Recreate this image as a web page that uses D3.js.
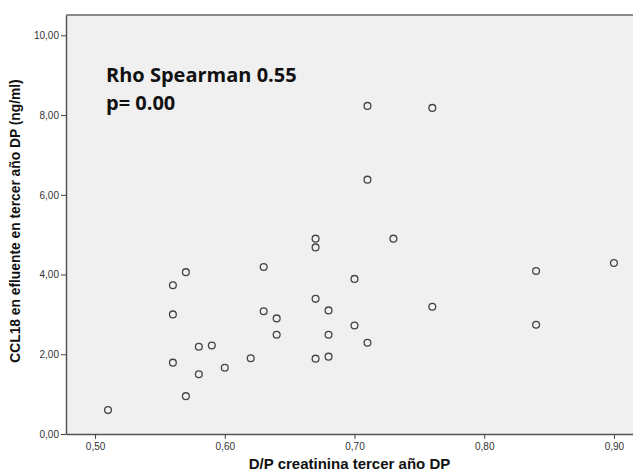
<!DOCTYPE html>
<html>
<head>
<meta charset="utf-8">
<script src="https://cdn.jsdelivr.net/npm/d3@7"></script>
<style>
  body { margin: 0; background: #fff; }
  svg { display: block; }
</style>
</head>
<body>
<svg width="633" height="473"></svg>
<script>
// D/P creatinina (x) vs CCL18 en efluente (y)
const dpValues = [0.51, 0.56, 0.56, 0.56, 0.57, 0.57, 0.58, 0.58, 0.59, 0.60, 0.62,
    0.63, 0.63, 0.64, 0.64, 0.67, 0.67, 0.67, 0.67, 0.68, 0.68, 0.68, 0.70, 0.70,
    0.71, 0.71, 0.71, 0.73, 0.76, 0.76, 0.84, 0.84, 0.90];
const ccl18Values = [0.60, 3.73, 3.00, 1.79, 4.06, 0.95, 2.19, 1.50, 2.22, 1.66, 1.90,
    4.19, 3.08, 2.90, 2.49, 4.90, 4.68, 3.39, 1.89, 3.10, 2.49, 1.94, 3.89, 2.72,
    8.23, 6.38, 2.29, 4.90, 8.18, 3.19, 4.09, 2.74, 4.29];
const xTicks = [0.5, 0.6, 0.7, 0.8, 0.9];
const yTicks = [0, 2, 4, 6, 8, 10];
const annotation = ["Rho Spearman 0.55", "p= 0.00"];

const svg = d3.select("svg");
const plot = { left: 66, top: 15, right: 633, bottom: 434 };

const x = d3.scaleLinear().domain([0.4776, 0.9147]).range([plot.left, plot.right]);
const y = d3.scaleLinear().domain([0, 10.51]).range([plot.bottom, plot.top]);
const fmt = d => d3.format(".2f")(d).replace(".", ",");

// background
svg.append("rect")
    .attr("x", plot.left).attr("y", plot.top)
    .attr("width", plot.right - plot.left).attr("height", plot.bottom - plot.top)
    .attr("fill", "#f0f0f0");

// top frame line
svg.append("line")
    .attr("x1", plot.left).attr("x2", plot.right)
    .attr("y1", plot.top).attr("y2", plot.top)
    .attr("stroke", "#666").attr("stroke-width", 1.5);

const xAxis = svg.append("g")
    .attr("transform", `translate(0,${plot.bottom})`)
    .call(d3.axisBottom(x).tickValues(xTicks).tickFormat(fmt).tickSize(5).tickSizeOuter(0).tickPadding(4));

const yAxis = svg.append("g")
    .attr("transform", `translate(${plot.left},0)`)
    .call(d3.axisLeft(y).tickValues(yTicks).tickFormat(fmt).tickSize(5).tickSizeOuter(0).tickPadding(2));

[xAxis, yAxis].forEach(g => {
    g.select(".domain").attr("stroke", "#555").attr("stroke-width", 1.5);
    g.selectAll(".tick line").attr("stroke", "#444");
    g.selectAll(".tick text")
        .attr("fill", "#333")
        .style("font-family", "Arial, 'Liberation Sans', sans-serif")
        .style("font-size", "10px");
});

// points
svg.append("g")
    .selectAll("circle")
    .data(dpValues.map((d, i) => [d, ccl18Values[i]]))
    .join("circle")
    .attr("cx", d => x(d[0]))
    .attr("cy", d => y(d[1]))
    .attr("r", 3.4)
    .attr("fill", "none")
    .attr("stroke", "#444")
    .attr("stroke-width", 1.3);

// axis titles
svg.append("text")
    .attr("x", (plot.left + plot.right) / 2)
    .attr("y", 469)
    .attr("text-anchor", "middle")
    .style("font-family", "Arial, 'Liberation Sans', sans-serif")
    .style("font-weight", "bold")
    .style("font-size", "15px")
    .attr("fill", "#111")
    .text("D/P creatinina tercer año DP");

svg.append("text")
    .attr("transform", "translate(20,221) rotate(-90)")
    .attr("text-anchor", "middle")
    .style("font-family", "Arial, 'Liberation Sans', sans-serif")
    .style("font-weight", "bold")
    .style("font-size", "13.8px")
    .attr("fill", "#111")
    .text("CCL18 en efluente en tercer año DP (ng/ml)");

// annotation
svg.append("g")
    .selectAll("text")
    .data(annotation)
    .join("text")
    .attr("x", 106)
    .attr("y", (d, i) => 82 + i * 28)
    .style("font-family", "'Open Sans', 'Noto Sans', sans-serif")
    .style("font-weight", "bold")
    .style("font-size", "20px")
    .attr("fill", "#111")
    .text(d => d);
</script>
</body>
</html>
